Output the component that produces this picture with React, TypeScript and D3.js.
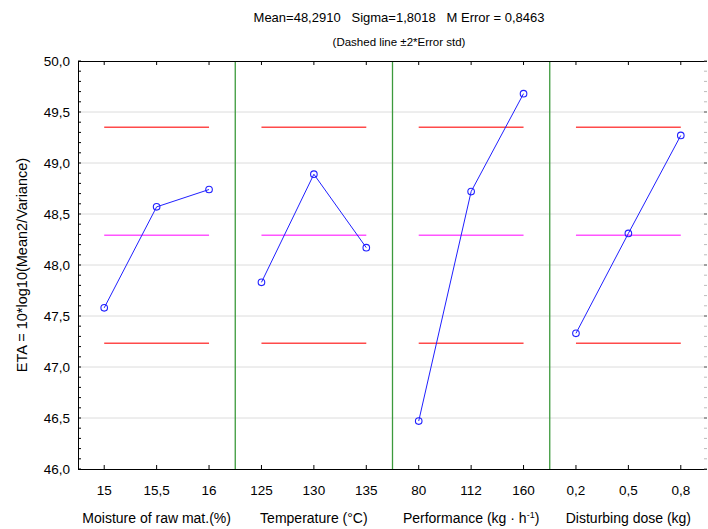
import React from "react";
import * as d3 from "d3";

// Factor groups and their levels
const factors = ["Moisture of raw mat.(%)", "Temperature (°C)", "Performance", "Disturbing dose (kg)"];
const levels = [
  ["15", "15,5", "16"],
  ["125", "130", "135"],
  ["80", "112", "160"],
  ["0,2", "0,5", "0,8"],
];
// ETA (signal-to-noise) per level
const eta = [
  [47.58, 48.57, 48.74],
  [47.83, 48.89, 48.17],
  [46.47, 48.72, 49.68],
  [47.33, 48.31, 49.27],
];
const meanEta = 48.291;
const upperLimit = 49.35;
const lowerLimit = 47.233;
const yTicks = [46, 46.5, 47, 47.5, 48, 48.5, 49, 49.5, 50];

const W = 708;
const H = 529;
const M = { left: 78, right: 1, top: 61, bottom: 60 };

export default function App() {
  const keys = levels.flatMap((lv, g) => lv.map((l) => `${g}|${l}`));
  const x = d3.scaleBand<string>().domain(keys).range([M.left, W - M.right]).padding(0);
  const y = d3.scaleLinear().domain([46, 50]).range([H - M.bottom, M.top]);
  const cx = (k: string) => (x(k) as number) + x.bandwidth() / 2;
  const fmt = (v: number) => d3.format(".1f")(v).replace(".", ",");
  const minor = d3.range(46, 50.0001, 0.1);
  const line = d3
    .line<[string, number]>()
    .x((d) => cx(d[0]))
    .y((d) => y(d[1]));
  const font = "'Liberation Sans', Arial, sans-serif";
  const x0 = M.left;
  const x1 = W - M.right;
  const yTop = y(50);
  const yBot = y(46);

  return (
    <svg
      width={W}
      height={H}
      style={{ position: "absolute", left: 0, top: 0, background: "#fff" }}
      fontFamily={font}
    >
      <text x={399} y={22} textAnchor="middle" fontSize={13}>
        Mean=48,2910&#160;&#160; Sigma=1,8018&#160;&#160; M Error = 0,8463
      </text>
      <text x={399} y={46} textAnchor="middle" fontSize={11.5}>
        (Dashed line ±2*Error std)
      </text>

      {/* grid */}
      {yTicks.slice(1, -1).map((t) => (
        <line key={t} x1={x0} x2={x1} y1={y(t)} y2={y(t)} stroke="#dcdcdc" strokeWidth={1} />
      ))}

      {/* group separators */}
      {[1, 2, 3].map((g) => {
        const gx = x(`${g}|${levels[g][0]}`) as number;
        return <line key={g} x1={gx} x2={gx} y1={yTop} y2={yBot} stroke="#3c9a3c" strokeWidth={1.3} />;
      })}

      {/* reference lines per group */}
      {levels.map((lv, g) => {
        const a = cx(`${g}|${lv[0]}`);
        const b = cx(`${g}|${lv[2]}`);
        return (
          <g key={g}>
            <line x1={a} x2={b} y1={y(upperLimit)} y2={y(upperLimit)} stroke="#ff4a4a" strokeWidth={1.5} />
            <line x1={a} x2={b} y1={y(lowerLimit)} y2={y(lowerLimit)} stroke="#ff4a4a" strokeWidth={1.5} />
            <line x1={a} x2={b} y1={y(meanEta)} y2={y(meanEta)} stroke="#ff55ff" strokeWidth={1.5} />
          </g>
        );
      })}

      {/* effect lines */}
      {levels.map((lv, g) => {
        const pts: [string, number][] = lv.map((l, i) => [`${g}|${l}`, eta[g][i]]);
        return (
          <g key={g}>
            <path d={line(pts) || ""} fill="none" stroke="#2020ff" strokeWidth={1} />
            {pts.map((p) => (
              <circle key={p[0]} cx={cx(p[0])} cy={y(p[1])} r={3.3} fill="none" stroke="#2020ff" strokeWidth={1.1} />
            ))}
          </g>
        );
      })}

      {/* frame */}
      <line x1={x0 + 0.5} x2={x0 + 0.5} y1={yTop} y2={yBot} stroke="#000" />
      <line x1={x0} x2={x1} y1={yTop + 0.5} y2={yTop + 0.5} stroke="#000" />
      <line x1={x0} x2={x1} y1={yBot + 0.5} y2={yBot + 0.5} stroke="#000" />

      {/* y ticks */}
      {minor.map((t, i) => (
        <g key={i}>
          <line x1={x0} x2={x0 + 3} y1={y(t)} y2={y(t)} stroke="#000" />
          <line x1={x1 - 3} x2={x1} y1={y(t)} y2={y(t)} stroke={i % 5 === 0 ? "#555" : "#bbb"} />
        </g>
      ))}
      {yTicks.map((t) => (
        <text key={t} x={70} y={y(t) + 4.5} textAnchor="end" fontSize={13.5}>
          {fmt(t)}
        </text>
      ))}

      {/* x ticks */}
      {keys.map((k) => (
        <g key={k}>
          <line x1={cx(k)} x2={cx(k)} y1={yBot} y2={yBot - 4} stroke="#000" />
          <line x1={cx(k)} x2={cx(k)} y1={yTop} y2={yTop + 4} stroke="#000" />
          <text x={cx(k)} y={yBot + 26} textAnchor="middle" fontSize={13.5}>
            {k.split("|")[1]}
          </text>
        </g>
      ))}

      {/* factor names */}
      {factors.map((f, g) => {
        const c = cx(`${g}|${levels[g][1]}`);
        return (
          <text key={f} x={c} y={523} textAnchor="middle" fontSize={14}>
            {f}
            {g === 2 && (
              <>
                {" (kg · h"}
                <tspan dy={-5} fontSize={9}>-1</tspan>
                <tspan dy={5}>)</tspan>
              </>
            )}
          </text>
        );
      })}

      <text
        transform={`translate(27,${(yTop + yBot) / 2}) rotate(-90)`}
        textAnchor="middle"
        fontSize={14.5}
      >
        ETA = 10*log10(Mean2/Variance)
      </text>
    </svg>
  );
}
